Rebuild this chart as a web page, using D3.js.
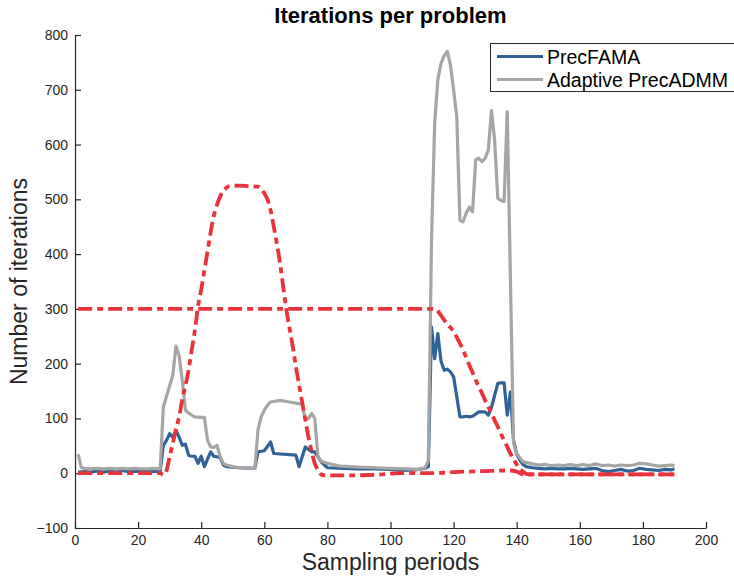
<!DOCTYPE html>
<html>
<head>
<meta charset="utf-8">
<script src="https://cdn.jsdelivr.net/npm/d3@7"></script>
<style>
  body { margin: 0; background: #fff; }
  text { font-family: "Liberation Sans", Arial, sans-serif; }
</style>
</head>
<body>
<div id="chart"></div>
<script>
// PrecFAMA (blue)
const famaX = [1, 3, 5, 7, 9, 11, 13, 15, 17, 19, 21, 23, 25, 27,
  28, 29, 30, 31, 32, 33, 34, 35, 36, 37, 38, 39, 40, 41, 43, 44, 46, 47, 48, 52, 57,
  58, 60, 62, 63, 70, 71, 73, 75, 76, 78, 80, 85, 90, 95, 100, 104, 108, 111, 112,
  113, 114, 115, 116, 117, 118, 119, 120, 121, 122, 123, 124, 125, 126, 127, 128, 129, 130,
  131, 132, 133, 134, 135, 136, 137, 138, 139, 140, 141, 142, 143,
  145, 147, 149, 151, 153, 155, 157, 159, 161, 163, 165, 167, 169, 171, 173, 175, 177, 179,
  181, 183, 185, 187, 189, 190];
const famaY = [2, 3, 2, 4, 2, 4, 2, 5, 3, 4, 3, 3, 4, 3,
  51, 60, 72, 66, 78, 66, 51, 53, 33, 31, 31, 18, 31, 12, 39, 31, 29, 15, 12, 10, 9,
  39, 41, 57, 36, 33, 12, 48, 39, 39, 21, 10, 9, 8, 8, 7, 5, 6, 9, 12,
  267, 209, 255, 205, 188, 190, 185, 176, 140, 103, 103, 104, 103, 104, 108, 112, 112, 112,
  106, 120, 142, 164, 165, 165, 106, 148, 60, 35, 24, 16, 12,
  10, 9, 8, 9, 8, 8, 9, 8, 7, 8, 9, 5, 3, 5, 7, 4, 5, 9,
  7, 6, 5, 7, 6, 8];

// Adaptive PrecADMM (grey)
const admmX = [1, 2, 3, 5, 7, 9, 11, 13, 15, 17, 19, 21, 23, 25, 27,
  28, 29, 30, 31, 32, 33, 34, 35, 36, 37, 38, 40, 41, 42, 43, 44, 45, 46, 47, 48, 50, 52, 55, 57,
  58, 59, 60, 61, 62, 63, 65, 67, 68, 70, 72, 73, 74, 75, 76, 77, 78, 80, 84, 90, 95, 100, 105, 109, 111, 112,
  113, 114, 115, 116, 117, 118, 119, 120, 121, 122, 123, 124, 125, 126, 127, 128, 129, 130,
  131, 132, 133, 134, 135, 136, 137, 139, 140, 141, 142,
  145, 147, 149, 151, 153, 155, 157, 159, 161, 163, 165, 167, 169, 171, 173, 175, 177, 179,
  181, 183, 185, 187, 189, 190];
const admmY = [35, 10, 9, 8, 9, 8, 9, 8, 9, 8, 9, 8, 8, 9, 8,
  121, 140, 160, 179, 232, 215, 170, 115, 110, 106, 103, 102, 102, 60, 48, 47, 51, 30, 18, 15, 12, 10, 9, 9,
  79, 103, 115, 124, 130, 131, 133, 131, 130, 128, 126, 97, 100, 109, 100, 30, 22, 18, 13, 11, 10, 9, 8, 7, 10, 24,
  425, 639, 718, 748, 762, 770, 745, 700, 651, 462, 459, 475, 486, 477, 572, 575, 569, 575,
  590, 662, 608, 502, 498, 496, 660, 55, 36, 28, 21,
  17, 15, 16, 14, 15, 14, 16, 14, 16, 14, 17, 14, 15, 13, 15, 14, 15, 18,
  17, 15, 13, 14, 15, 14];

// dash-dot reference curves (red)
const refAX = [1, 114, 115, 116, 117, 118, 119, 120, 121, 122, 123, 124, 125, 126, 127, 128, 129, 130,
  131, 132, 133, 134, 135, 136, 137, 138, 139, 140, 141, 142, 143, 145, 190];
const refAY = [300, 300, 296, 288, 280, 272, 266, 259, 248, 237, 225, 211, 197, 184, 170, 158, 146, 133,
  121, 109, 97, 85, 72, 60, 48, 36, 26, 16, 8, 3, -1, -2, -2];

const refBX = [1, 27, 28, 29, 30, 31, 32, 33, 34, 35, 36, 37, 38, 39, 40, 41, 42, 43, 44, 45, 46, 47, 48,
  49, 52, 55, 58, 59, 60, 61, 62, 63, 64, 65, 66, 67, 68, 69, 70, 71, 72, 73, 74, 75, 76, 77, 78, 79,
  85, 95, 103, 113, 120, 130, 138, 140, 142, 145, 190];
const refBY = [0, 0, -3, 5, 30, 55, 80, 103, 135, 160, 188, 225, 261, 305, 335, 370, 405, 440, 470, 490, 505, 515, 521,
  524, 525, 524, 523, 519, 511, 500, 480, 450, 418, 383, 340, 298, 265, 232, 195, 162, 130, 98, 66, 40, 18, 6, -2, -4,
  -4, -3, 0, 0, 2, 4, 5, 3, -2, -2, -2];

const xTicks = [0, 20, 40, 60, 80, 100, 120, 140, 160, 180, 200];
const yTicks = [-100, 0, 100, 200, 300, 400, 500, 600, 700, 800];
const legendNames = ['PrecFAMA', 'Adaptive PrecADMM'];

const W = 734, H = 578;
const plotLeft = 75, plotRight = 706, plotTop = 35, plotBottom = 528;
const axisColor = '#262626';
const blue = '#2f6398', grey = '#a5a5a5', red = '#e8333a';

const svg = d3.select('#chart').append('svg')
  .attr('width', W)
  .attr('height', H);

const x = d3.scaleLinear().domain([0, 200]).range([plotLeft, plotRight]);
const y = d3.scaleLinear().domain([-100, 800]).range([plotBottom, plotTop]);

// axes, ticks pointing inwards
const xAxis = svg.append('g')
  .attr('transform', `translate(0,${plotBottom})`)
  .call(d3.axisBottom(x).tickValues(xTicks).tickSize(-6).tickPadding(7).tickSizeOuter(0));
const yAxis = svg.append('g')
  .attr('transform', `translate(${plotLeft},0)`)
  .call(d3.axisLeft(y).tickValues(yTicks).tickSize(-6).tickPadding(7).tickSizeOuter(0));

[xAxis, yAxis].forEach(g => {
  g.select('.domain').attr('stroke', axisColor).attr('stroke-width', 1.2);
  g.selectAll('.tick line').attr('stroke', axisColor).attr('stroke-width', 1.2);
  g.selectAll('.tick text')
    .attr('fill', axisColor)
    .style('font-size', '14px')
    .style('font-family', '"Liberation Sans", Arial, sans-serif');
});

function toPoints(xs, ys) {
  return xs.map((d, i) => [d, ys[i]]);
}

const line = d3.line()
  .x(d => x(d[0]))
  .y(d => y(d[1]));

const smooth = d3.line()
  .curve(d3.curveMonotoneX)
  .x(d => x(d[0]))
  .y(d => y(d[1]));

svg.append('path')
  .attr('d', line(toPoints(famaX, famaY)))
  .attr('fill', 'none')
  .attr('stroke', blue)
  .attr('stroke-width', 3.2)
  .attr('stroke-linejoin', 'round');

svg.append('path')
  .attr('d', line(toPoints(admmX, admmY)))
  .attr('fill', 'none')
  .attr('stroke', grey)
  .attr('stroke-width', 3.2)
  .attr('stroke-linejoin', 'round');

[toPoints(refAX, refAY), toPoints(refBX, refBY)].forEach(pts => {
  svg.append('path')
    .attr('d', smooth(pts))
    .attr('fill', 'none')
    .attr('stroke', red)
    .attr('stroke-width', 3.8)
    .attr('stroke-dasharray', '14,5,6,5');
});

// title and axis labels
svg.append('text')
  .attr('x', (plotLeft + plotRight) / 2)
  .attr('y', 23)
  .attr('text-anchor', 'middle')
  .style('font-size', '22px')
  .style('font-weight', 'bold')
  .text('Iterations per problem');

svg.append('text')
  .attr('x', (plotLeft + plotRight) / 2)
  .attr('y', 570)
  .attr('text-anchor', 'middle')
  .style('font-size', '23px')
  .attr('fill', axisColor)
  .text('Sampling periods');

svg.append('text')
  .attr('transform', `translate(27,${(plotTop + plotBottom) / 2}) rotate(-90)`)
  .attr('text-anchor', 'middle')
  .style('font-size', '23px')
  .attr('fill', axisColor)
  .text('Number of iterations');

// legend (box runs off the right edge, like the original)
const legend = svg.append('g');
legend.append('rect')
  .attr('x', 490.5).attr('y', 43.5)
  .attr('width', 260).attr('height', 48)
  .attr('fill', '#fff')
  .attr('stroke', axisColor)
  .attr('stroke-width', 1);

[blue, grey].forEach((c, i) => {
  const ly = 56.5 + i * 23;
  legend.append('line')
    .attr('x1', 497).attr('x2', 543)
    .attr('y1', ly).attr('y2', ly)
    .attr('stroke', c)
    .attr('stroke-width', 3.2);
  legend.append('text')
    .attr('x', 547).attr('y', ly + 7)
    .style('font-size', '19.5px')
    .text(legendNames[i]);
});
</script>
</body>
</html>
